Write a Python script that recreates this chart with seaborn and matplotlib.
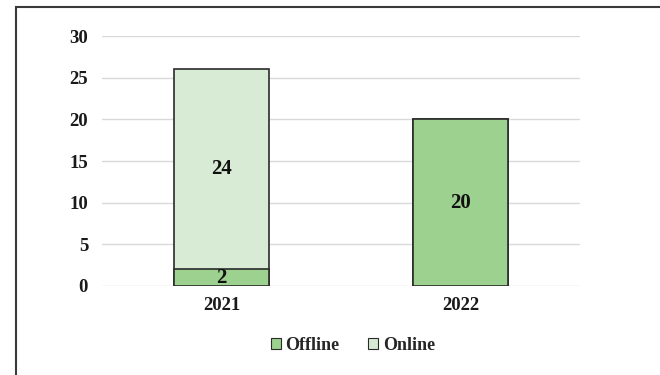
import matplotlib
matplotlib.use("Agg")
import matplotlib.pyplot as plt
from matplotlib.patches import Rectangle, Patch
import seaborn as sns
import pandas as pd

years = ["2021", "2022"]
offline = [2, 20]
online = [24, 0]
series_names = ["Offline", "Online"]
yticks = [0, 5, 10, 15, 20, 25, 30]

offline_color = "#9dd18f"
online_color = "#d8ebd5"
edge_color = "#2b2b2b"

sns.set_theme(style="white")
plt.rcParams["font.family"] = ["Liberation Serif", "DejaVu Serif"]
plt.rcParams["font.weight"] = "bold"

df = pd.DataFrame({"year": years, "Offline": offline, "Online": online})
df["total"] = df["Offline"] + df["Online"]

fig = plt.figure(figsize=(6.6, 3.75), dpi=100)
ax = fig.add_axes([102 / 660, 1 - 286 / 375, 478 / 660, 250 / 375])

# stacked bars: full stack in the online colour, offline part drawn over it
sns.barplot(data=df, x="year", y="total", color=online_color, saturation=1,
            edgecolor=edge_color, linewidth=1.2, width=0.4, ax=ax, zorder=3)
sns.barplot(data=df, x="year", y="Offline", color=offline_color, saturation=1,
            edgecolor=edge_color, linewidth=1.2, width=0.4, ax=ax, zorder=4)

for i, (off, on) in enumerate(zip(offline, online)):
    if off:
        ax.text(i, off / 2, str(off), ha="center", va="center",
                fontsize=15, fontweight="bold", color="#111111", zorder=5)
    if on:
        ax.text(i, off + on / 2, str(on), ha="center", va="center",
                fontsize=15, fontweight="bold", color="#111111", zorder=5)

ax.set_ylim(0, 30)
ax.set_xlim(-0.5, 1.5)
ax.set_yticks(yticks)
ax.set_yticklabels([str(t) for t in yticks])
ax.yaxis.grid(True, color="#d9d9d9", linewidth=1)
ax.set_axisbelow(True)
for s in ax.spines.values():
    s.set_visible(False)
ax.tick_params(axis="both", length=0, labelsize=13.5, colors="#1a1a1a")
ax.tick_params(axis="y", pad=10)
ax.tick_params(axis="x", pad=8)
for lab in ax.get_xticklabels() + ax.get_yticklabels():
    lab.set_fontweight("bold")
ax.set_xlabel("")
ax.set_ylabel("")

handles = [Patch(facecolor=offline_color, edgecolor=edge_color, linewidth=0.8),
           Patch(facecolor=online_color, edgecolor=edge_color, linewidth=0.8)]
fig.legend(handles, series_names, loc="center", bbox_to_anchor=(353 / 660, 1 - 345 / 375),
           ncol=2, frameon=False, handlelength=0.55, handleheight=0.55,
           handletextpad=0.25, columnspacing=1.6,
           prop={"family": "Liberation Serif", "weight": "bold", "size": 13})

# outer frame
fig.patches.append(Rectangle((16 / 660, -0.2), 1.2, 1 - 7 / 375 + 0.2,
                             transform=fig.transFigure, fill=False,
                             edgecolor="#3a3a3a", linewidth=1.5))

fig.savefig("out.png", dpi=100)
